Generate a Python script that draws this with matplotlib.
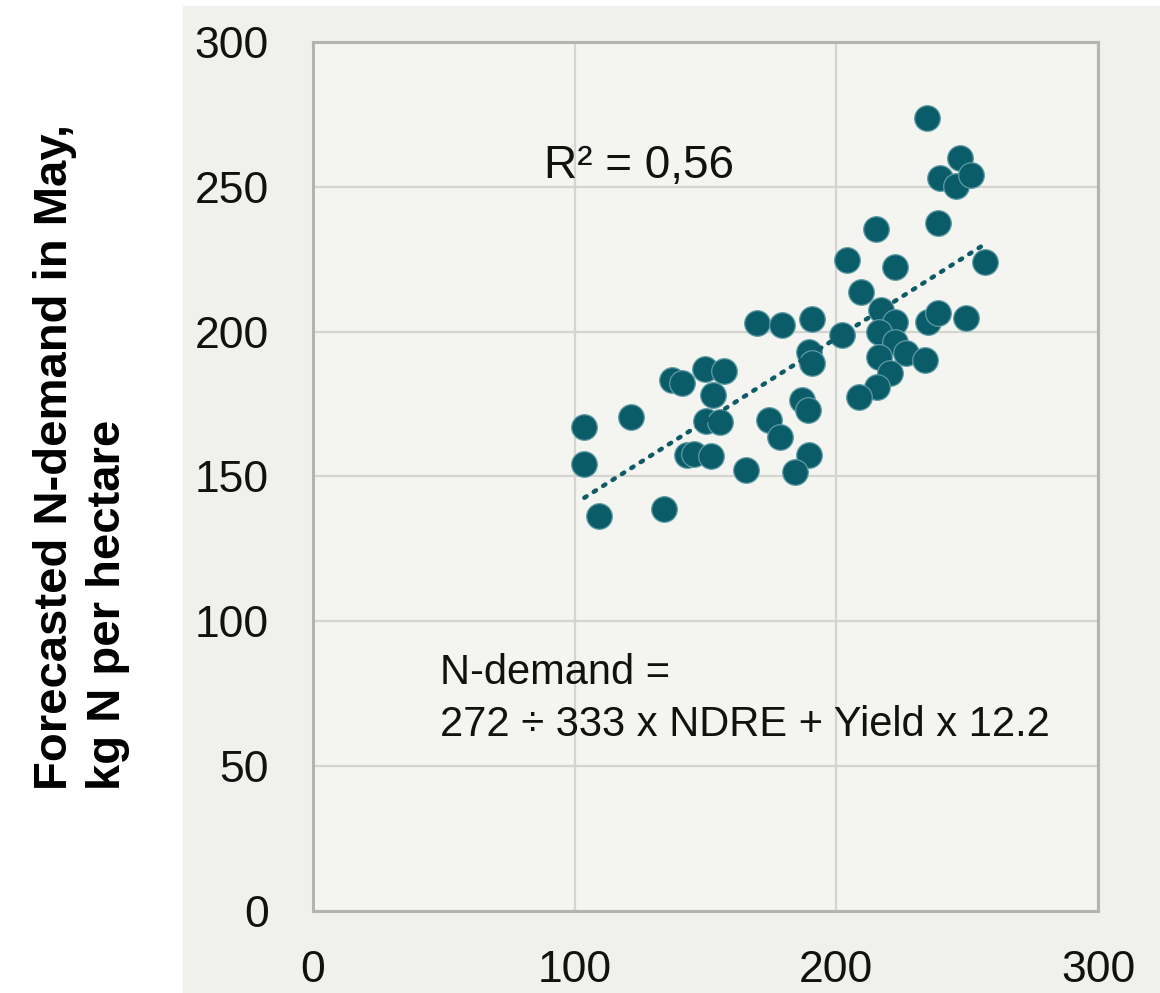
import numpy as np
import matplotlib
matplotlib.use("Agg")
import matplotlib.pyplot as plt
from matplotlib.patches import Rectangle

x_vals = [103.7, 103.7, 109.4, 121.6, 134.2, 137.2, 141.1, 149.8, 157.1, 152.9,
          150.2, 155.5, 143.0, 145.6, 152.1, 165.5, 169.7, 179.2, 190.6, 202.1,
          189.5, 190.6, 186.8, 189.1, 174.2, 178.4, 189.5, 184.1, 204.0, 209.3,
          215.0, 216.9, 222.6, 216.2, 222.6, 226.5, 233.7, 216.2, 220.7, 215.4,
          208.5, 235.2, 239.0, 249.7, 234.8, 247.4, 239.8, 245.9, 251.6, 238.7,
          222.6, 257.0]
y_vals = [167.1, 154.3, 136.4, 170.5, 138.8, 183.3, 182.3, 187.1, 186.4, 178.1,
          169.2, 168.8, 157.4, 157.8, 157.1, 152.2, 203.0, 202.3, 204.4, 198.8,
          193.0, 189.2, 176.4, 173.0, 169.5, 163.6, 157.4, 151.6, 224.7, 213.7,
          235.4, 207.5, 203.3, 199.9, 196.4, 192.6, 190.2, 191.3, 185.7, 180.9,
          177.4, 203.3, 206.4, 204.7, 273.8, 260.0, 253.0, 250.3, 254.1, 237.5,
          222.3, 224.0]

x_ticks = [0, 100, 200, 300]
y_ticks = [0, 50, 100, 150, 200, 250, 300]
r2_label = "R² = 0,56"
eq_line1 = "N-demand ="
eq_line2 = "272 ÷ 333 x NDRE + Yield x 12.2"
ylabel_line1 = "Forecasted N-demand in May,"
ylabel_line2 = "kg N per hectare"

W, H = 1160, 993
fig = plt.figure(figsize=(W / 100, H / 100), dpi=100)
fig.patch.set_facecolor("white")
bg = Rectangle((183 / W, 0), 1 - 183 / W, 1 - 6 / H,
               transform=fig.transFigure, facecolor="#f0f0ec",
               edgecolor="none", zorder=-5)
fig.patches.append(bg)

ax = fig.add_axes([313 / W, 1 - 911 / H, (1098 - 313) / W, (911 - 42) / H])
ax.set_zorder(1)
ax.set_facecolor("#f4f4f0")
ax.set_xlim(0, 300)
ax.set_ylim(0, 300)
ax.set_xticks(x_ticks)
ax.set_yticks(y_ticks)

font = ["Liberation Sans", "DejaVu Sans"]
txt_color = "#111111"
ax.set_xticklabels([str(t) for t in x_ticks], fontsize=32, family=font, color=txt_color)
ax.set_yticklabels([str(t) for t in y_ticks], fontsize=32, family=font, color=txt_color)
ax.tick_params(axis="x", length=0, pad=28)
ax.tick_params(axis="y", length=0, pad=32)

ax.grid(True, color="#d4d4d0", linewidth=1.6)
ax.set_axisbelow(True)
for s in ax.spines.values():
    s.set_color("#b3b3b0")
    s.set_linewidth(2.2)

xs = np.array(x_vals)
ys = np.array(y_vals)
ax.scatter(xs, ys, s=340, color="#0b5c69", edgecolors="#5f9ba4",
           linewidths=0.9, zorder=3)

# linear trendline
k, b = np.polyfit(xs, ys, 1)
xl = np.array([xs.min(), xs.max()])
ax.plot(xl, k * xl + b, linestyle=(0, (0.6, 1.9)), color="#0e5a66",
        linewidth=3.2, dash_capstyle="round", zorder=4)

ax.text(88.4, 253.0, r2_label, fontsize=33, family=font, color=txt_color,
        ha="left", va="baseline")
ax.text(48.4, 78.4, eq_line1, fontsize=30, family=font, color=txt_color,
        ha="left", va="baseline")
ax.text(48.4, 60.4, eq_line2, fontsize=30, family=font, color=txt_color,
        ha="left", va="baseline")

lab_font = ["Liberation Sans", "DejaVu Sans"]
fig.text(55 / W, 1 - 790 / H, ylabel_line1, rotation=90, fontsize=34,
         fontweight="bold", family=lab_font, ha="center", va="bottom")
fig.text(108 / W, 1 - 790 / H, ylabel_line2, rotation=90, fontsize=34,
         fontweight="bold", family=lab_font, ha="center", va="bottom")

fig.savefig("out.png", dpi=100)
